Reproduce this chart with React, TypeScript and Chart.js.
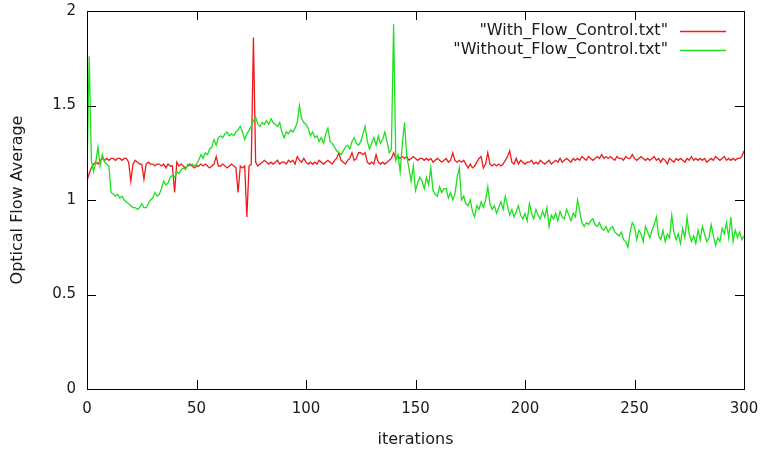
import React, { useEffect, useRef } from "react";
import { Chart, registerables } from "chart.js";

Chart.register(...registerables);

const withFlowControl = [
  1.10, 1.14, 1.17, 1.19, 1.20, 1.19, 1.21, 1.22, 1.21, 1.22,
  1.21, 1.22, 1.22, 1.21, 1.22, 1.22, 1.21, 1.22, 1.22, 1.20,
  1.10, 1.19, 1.21, 1.20, 1.19, 1.19, 1.11, 1.19, 1.20, 1.19,
  1.19, 1.18, 1.19, 1.19, 1.18, 1.19, 1.17, 1.19, 1.18, 1.18,
  1.04, 1.20, 1.18, 1.19, 1.18, 1.17, 1.18, 1.19, 1.18, 1.17,
  1.18, 1.18, 1.19, 1.18, 1.19, 1.18, 1.17, 1.18, 1.19, 1.23,
  1.18, 1.18, 1.19, 1.18, 1.17, 1.18, 1.19, 1.18, 1.17, 1.04,
  1.18, 1.17, 1.18, 0.91, 1.18, 1.19, 1.86, 1.20, 1.18, 1.19,
  1.20, 1.21, 1.20, 1.19, 1.20, 1.19, 1.20, 1.21, 1.19, 1.20,
  1.20, 1.19, 1.21, 1.20, 1.21, 1.19, 1.23, 1.21, 1.20, 1.22,
  1.20, 1.19, 1.20, 1.19, 1.20, 1.19, 1.21, 1.20, 1.19, 1.20,
  1.21, 1.20, 1.19, 1.21, 1.22, 1.25, 1.21, 1.20, 1.19, 1.21,
  1.22, 1.25, 1.21, 1.22, 1.25, 1.25, 1.24, 1.25, 1.20, 1.19,
  1.20, 1.19, 1.24, 1.20, 1.19, 1.20, 1.19, 1.20, 1.21, 1.22,
  1.25, 1.22, 1.23, 1.22, 1.23, 1.22, 1.23, 1.21, 1.22, 1.23,
  1.22, 1.21, 1.22, 1.22, 1.21, 1.22, 1.21, 1.22, 1.20, 1.21,
  1.22, 1.21, 1.20, 1.21, 1.22, 1.20, 1.21, 1.25, 1.21, 1.20,
  1.21, 1.20, 1.21, 1.19, 1.17, 1.19, 1.17, 1.18, 1.20, 1.22,
  1.23, 1.17, 1.19, 1.25, 1.19, 1.18, 1.19, 1.18, 1.19, 1.18,
  1.19, 1.21, 1.23, 1.26, 1.20, 1.19, 1.22, 1.19, 1.21, 1.20,
  1.19, 1.20, 1.20, 1.21, 1.19, 1.20, 1.19, 1.21, 1.20, 1.19,
  1.20, 1.21, 1.19, 1.20, 1.21, 1.20, 1.22, 1.20, 1.21, 1.22,
  1.21, 1.20, 1.22, 1.21, 1.22, 1.21, 1.23, 1.22, 1.21, 1.23,
  1.22, 1.21, 1.22, 1.23, 1.22, 1.24, 1.22, 1.23, 1.22, 1.23,
  1.22, 1.21, 1.23, 1.22, 1.22, 1.21, 1.23, 1.22, 1.22, 1.24,
  1.22, 1.21, 1.22, 1.23, 1.22, 1.21, 1.22, 1.21, 1.22, 1.23,
  1.21, 1.22, 1.20, 1.22, 1.21, 1.19, 1.22, 1.21, 1.20, 1.22,
  1.21, 1.22, 1.21, 1.20, 1.22, 1.21, 1.23, 1.21, 1.22, 1.21,
  1.22, 1.21, 1.22, 1.20, 1.21, 1.22, 1.21, 1.23, 1.22, 1.21,
  1.22, 1.23, 1.21, 1.22, 1.21, 1.22, 1.21, 1.22, 1.22, 1.23,
  1.26,
];

const withoutFlowControl = [
  1.14, 1.76, 1.21, 1.15, 1.20, 1.28, 1.18, 1.24, 1.20, 1.19,
  1.18, 1.04, 1.03, 1.02, 1.03, 1.01, 1.02, 1.00, 0.99, 0.98,
  0.97, 0.96, 0.96, 0.95, 0.96, 0.98, 0.96, 0.96, 0.98, 1.00,
  1.01, 1.04, 1.02, 1.03, 1.06, 1.10, 1.08, 1.09, 1.12, 1.13,
  1.12, 1.15, 1.14, 1.16, 1.17, 1.16, 1.19, 1.18, 1.19, 1.18,
  1.19, 1.21, 1.24, 1.22, 1.25, 1.24, 1.27, 1.28, 1.32, 1.29,
  1.33, 1.34, 1.33, 1.35, 1.36, 1.34, 1.35, 1.34, 1.36, 1.37,
  1.39, 1.36, 1.32, 1.35, 1.37, 1.39, 1.42, 1.44, 1.40, 1.39,
  1.41, 1.40, 1.42, 1.40, 1.43, 1.41, 1.40, 1.39, 1.41, 1.36,
  1.33, 1.36, 1.35, 1.37, 1.36, 1.38, 1.41, 1.50, 1.43, 1.41,
  1.40, 1.38, 1.34, 1.36, 1.33, 1.34, 1.31, 1.33, 1.30, 1.35,
  1.38, 1.31, 1.30, 1.28, 1.26, 1.25, 1.24, 1.26, 1.28, 1.29,
  1.27, 1.31, 1.33, 1.30, 1.29, 1.31, 1.35, 1.39, 1.31, 1.27,
  1.30, 1.33, 1.29, 1.34, 1.30, 1.32, 1.36, 1.31, 1.25, 1.27,
  1.93, 1.21, 1.24, 1.15, 1.30, 1.41, 1.23, 1.17, 1.10, 1.18,
  1.05, 1.09, 1.12, 1.10, 1.06, 1.12, 1.08, 1.17, 1.05, 1.03,
  1.02, 1.07, 1.04, 1.06, 1.06, 1.01, 1.04, 1.00, 1.03, 1.12,
  1.17, 1.00, 1.02, 0.98, 0.97, 1.00, 0.94, 0.91, 0.97, 0.95,
  0.99, 0.96, 1.00, 1.07, 0.98, 0.95, 0.97, 0.93, 0.96, 0.99,
  0.95, 1.02, 0.97, 0.92, 0.95, 0.91, 0.94, 0.97, 0.92, 0.90,
  0.93, 0.89, 0.98, 0.93, 0.90, 0.95, 0.92, 0.90, 0.94, 0.91,
  0.96, 0.86, 0.92, 0.90, 0.93, 0.89, 0.94, 0.91, 0.90, 0.95,
  0.92, 0.89, 0.93, 0.91, 1.00, 0.94, 0.88, 0.86, 0.88, 0.87,
  0.89, 0.90, 0.87, 0.86, 0.88, 0.85, 0.84, 0.86, 0.83, 0.85,
  0.86, 0.83, 0.82, 0.81, 0.83, 0.79, 0.78, 0.75, 0.83, 0.88,
  0.86, 0.79, 0.84, 0.82, 0.78, 0.86, 0.83, 0.80, 0.84, 0.87,
  0.91, 0.81, 0.79, 0.84, 0.78, 0.82, 0.80, 0.92, 0.83, 0.79,
  0.82, 0.77, 0.85, 0.80, 0.91, 0.82, 0.78, 0.81, 0.77, 0.84,
  0.79, 0.86, 0.82, 0.78, 0.80, 0.87, 0.81, 0.76, 0.80, 0.78,
  0.85, 0.82, 0.88, 0.80, 0.91, 0.78, 0.84, 0.80, 0.83, 0.79,
  0.81,
];

const seriesLabels = ['"With_Flow_Control.txt"', '"Without_Flow_Control.txt"'];
const xTitle = "iterations";
const yTitle = "Optical Flow Average";

const FONT = "'DejaVu Sans', 'Liberation Sans', sans-serif";
const TEXT = "#1a1a1a";

const toPoints = (arr: number[]) => arr.map((v, i) => ({ x: i, y: v }));

const framePlugin = {
  id: "gnuplotFrame",
  afterDatasetsDraw(chart: any) {
    const { ctx, chartArea, scales } = chart;
    const { left, right, top, bottom } = chartArea;
    const x = scales.x;
    const y = scales.y;
    const L = 9;
    ctx.save();
    ctx.strokeStyle = "#000";
    ctx.lineWidth = 1;
    ctx.beginPath();
    x.ticks.forEach((t: any) => {
      const px = Math.round(x.getPixelForValue(t.value)) + 0.5;
      ctx.moveTo(px, bottom);
      ctx.lineTo(px, bottom - L);
      ctx.moveTo(px, top);
      ctx.lineTo(px, top + L);
    });
    y.ticks.forEach((t: any) => {
      const py = Math.round(y.getPixelForValue(t.value)) + 0.5;
      ctx.moveTo(left, py);
      ctx.lineTo(left + L, py);
      ctx.moveTo(right, py);
      ctx.lineTo(right - L, py);
    });
    ctx.stroke();
    ctx.strokeRect(Math.round(left) + 0.5, Math.round(top) + 0.5, Math.round(right - left), Math.round(bottom - top));

    // legend (gnuplot style: text right-aligned, sample line to its right)
    ctx.font = `16px ${FONT}`;
    ctx.fillStyle = TEXT;
    ctx.textAlign = "right";
    ctx.textBaseline = "middle";
    const textRight = right - 76;
    const lineX0 = right - 64;
    const lineX1 = right - 18;
    chart.data.datasets.forEach((ds: any, i: number) => {
      const ly = top + 20 + i * 19;
      ctx.fillText(ds.label, textRight, ly);
      ctx.beginPath();
      ctx.strokeStyle = ds.borderColor;
      ctx.lineWidth = ds.borderWidth;
      ctx.moveTo(lineX0, Math.round(ly) + 0.5);
      ctx.lineTo(lineX1, Math.round(ly) + 0.5);
      ctx.stroke();
    });
    ctx.restore();
  },
};

export default function App() {
  const ref = useRef<HTMLCanvasElement | null>(null);

  useEffect(() => {
    if (!ref.current) return;
    const chart = new Chart(ref.current, {
      type: "line",
      data: {
        datasets: [
          {
            label: seriesLabels[0],
            data: toPoints(withFlowControl),
            borderColor: "#ee1b1b",
            borderWidth: 1.3,
            pointRadius: 0,
            tension: 0,
            order: 1,
          },
          {
            label: seriesLabels[1],
            data: toPoints(withoutFlowControl),
            borderColor: "#1ee01e",
            borderWidth: 1.3,
            pointRadius: 0,
            tension: 0,
            order: 0,
          },
        ],
      },
      options: {
        animation: false,
        responsive: false,
        maintainAspectRatio: false,
        devicePixelRatio: 1,
        layout: { padding: { left: 0, right: 16, top: 11, bottom: 0 } },
        plugins: {
          legend: { display: false },
          tooltip: { enabled: false },
        },
        scales: {
          x: {
            type: "linear",
            min: 0,
            max: 300,
            grid: { display: false, drawTicks: false },
            border: { display: false },
            ticks: {
              stepSize: 50,
              maxRotation: 0,
              padding: 11,
              color: TEXT,
              font: { family: FONT, size: 15 },
              callback: (v: any) => String(v),
            },
            title: {
              display: true,
              text: xTitle,
              color: TEXT,
              font: { family: FONT, size: 16 },
              padding: { top: 0, bottom: 2 },
            },
            afterFit: (s: any) => {
              s.height = 62;
              s.paddingLeft = 0;
              s.paddingRight = 0;
              s.paddingTop = 0;
              s.paddingBottom = 0;
            },
          },
          y: {
            type: "linear",
            min: 0,
            max: 2,
            grid: { display: false, drawTicks: false },
            border: { display: false },
            ticks: {
              stepSize: 0.5,
              padding: 11,
              color: TEXT,
              font: { family: FONT, size: 15 },
              callback: (v: any) => String(v),
            },
            title: {
              display: true,
              text: yTitle,
              color: TEXT,
              font: { family: FONT, size: 16 },
              padding: { top: 8, bottom: 0 },
            },
            afterFit: (s: any) => {
              s.width = 87;
              s.paddingLeft = 0;
              s.paddingRight = 0;
              s.paddingTop = 0;
              s.paddingBottom = 0;
            },
          },
        },
      },
      plugins: [framePlugin],
    });
    return () => chart.destroy();
  }, []);

  return (
    <div style={{ position: "fixed", left: 0, top: 0, width: 760, height: 451, background: "#fff" }}>
      <canvas ref={ref} width={760} height={451} style={{ width: 760, height: 451, display: "block" }} />
    </div>
  );
}
